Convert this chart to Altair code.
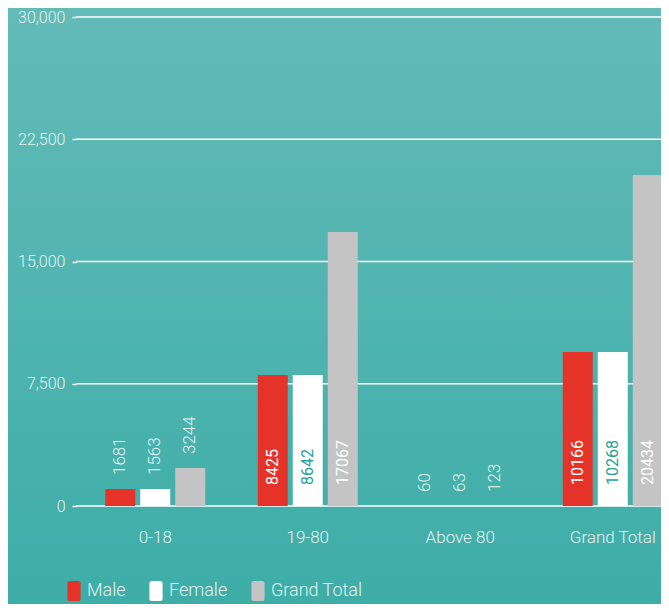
import altair as alt
import pandas as pd

# ---- data ----
groups = ["0-18", "19-80", "Above 80", "Grand Total"]
series = ["Male", "Female", "Grand Total"]
# bar heights as drawn in the picture (per group: Male, Female, Grand Total)
male_bars = [1040, 8040, 0, 9450]
female_bars = [1040, 8040, 0, 9450]
total_bars = [2330, 16810, 0, 20300]
# numbers printed on the bars
male_labels = ["1681", "8425", "60", "10166"]
female_labels = ["1563", "8642", "63", "10268"]
total_labels = ["3244", "17067", "123", "20434"]
y_ticks = [0, 7500, 15000, 22500, 30000]

colors = ["#e5332a", "#ffffff", "#c4c4c4"]
inside_text = {"Male": "#ffffff", "Female": "#1fa39b", "Grand Total": "#ffffff"}
LIGHT = "#e3f3f1"
FONT = "Roboto"

rows = []
for s, bars, labs in [("Male", male_bars, male_labels),
                      ("Female", female_bars, female_labels),
                      ("Grand Total", total_bars, total_labels)]:
    for g, b, l in zip(groups, bars, labs):
        rows.append({"group": g, "series": s, "value": b, "label": l,
                     "inside": b > 5000, "tcolor": inside_text[s]})
df = pd.DataFrame(rows)

x = alt.X("group:N", sort=groups, title=None,
          scale=alt.Scale(range=[3, 613], paddingInner=0, paddingOuter=0),
          axis=alt.Axis(labelAngle=0, ticks=False, domain=False, labelPadding=23,
                        labelFontSize=17, labelColor=LIGHT, labelFont=FONT,
                        labelFontWeight=300, grid=False, zindex=1))
xo = alt.XOffset("series:N", sort=series,
                 scale=alt.Scale(paddingInner=0.143, paddingOuter=0.75))
y = alt.Y("value:Q", title=None,
          scale=alt.Scale(domain=[0, 30000], nice=False, zero=True),
          axis=alt.Axis(values=y_ticks, format=",.0f", grid=False, domain=False,
                        tickSize=4, tickColor="#ffffff", tickWidth=1.5,
                        labelPadding=7, labelFontSize=16, labelColor=LIGHT,
                        labelFont=FONT, labelFontWeight=300, zindex=1))

bg = alt.Chart(pd.DataFrame({"k": [0]})).mark_rect(
    color=alt.Gradient(gradient="linear", x1=0, y1=0, x2=0, y2=1,
                       stops=[alt.GradientStop(color="#63bbb8", offset=0),
                              alt.GradientStop(color="#3dada7", offset=1)])
).encode(x=alt.value(-70), x2=alt.value(600), y=alt.value(-10), y2=alt.value(600))

grid = alt.Chart(pd.DataFrame({"t": y_ticks})).mark_rule(
    color="#ffffff", strokeWidth=1.5
).encode(y=alt.Y("t:Q", scale=alt.Scale(domain=[0, 30000], nice=False)),
         x=alt.value(0), x2=alt.value(600))

path = ("M-0.4,-1 L0.4,-1 Q0.66,-1 0.66,-0.74 L0.66,0.74 Q0.66,1 0.4,1 "
        "L-0.4,1 Q-0.66,1 -0.66,0.74 L-0.66,-0.74 Q-0.66,-1 -0.4,-1 Z")

bars = alt.Chart(df).mark_bar().encode(
    x=x, xOffset=xo, y=y,
    color=alt.Color("series:N", sort=series,
                    scale=alt.Scale(domain=series, range=colors),
                    legend=alt.Legend(title=None, orient="none", legendX=-12, legendY=564,
                                      direction="horizontal", symbolType=path,
                                      symbolSize=400, symbolStrokeWidth=0,
                                      symbolOpacity=1, labelFontSize=18,
                                      labelColor=LIGHT, labelFont=FONT,
                                      labelFontWeight=300, columnPadding=20,
                                      labelOffset=3, zindex=1)),
)

inside = alt.Chart(df).transform_filter("datum.inside").mark_text(
    angle=270, align="left", baseline="middle", dx=21, fontSize=16, font=FONT
).encode(x=x, xOffset=xo, y=alt.datum(0), text="label:N",
         color=alt.Color("tcolor:N", scale=None))

outside = alt.Chart(df).transform_filter("!datum.inside").mark_text(
    angle=270, align="left", baseline="middle", dx=14, fontSize=17, font=FONT,
    fontWeight=300, color=LIGHT
).encode(x=x, xOffset=xo, y=y, text="label:N")

chart = alt.layer(bg, grid, bars, inside, outside).properties(
    width=585, height=489,
    autosize=alt.AutoSizeParams(type="none"),
    padding={"left": 68, "top": 9, "right": 0, "bottom": 98},
    background="#4fb3ae",
).configure_view(stroke=None)

chart.save("out.html", embed_options={"renderer": "svg", "actions": False})
